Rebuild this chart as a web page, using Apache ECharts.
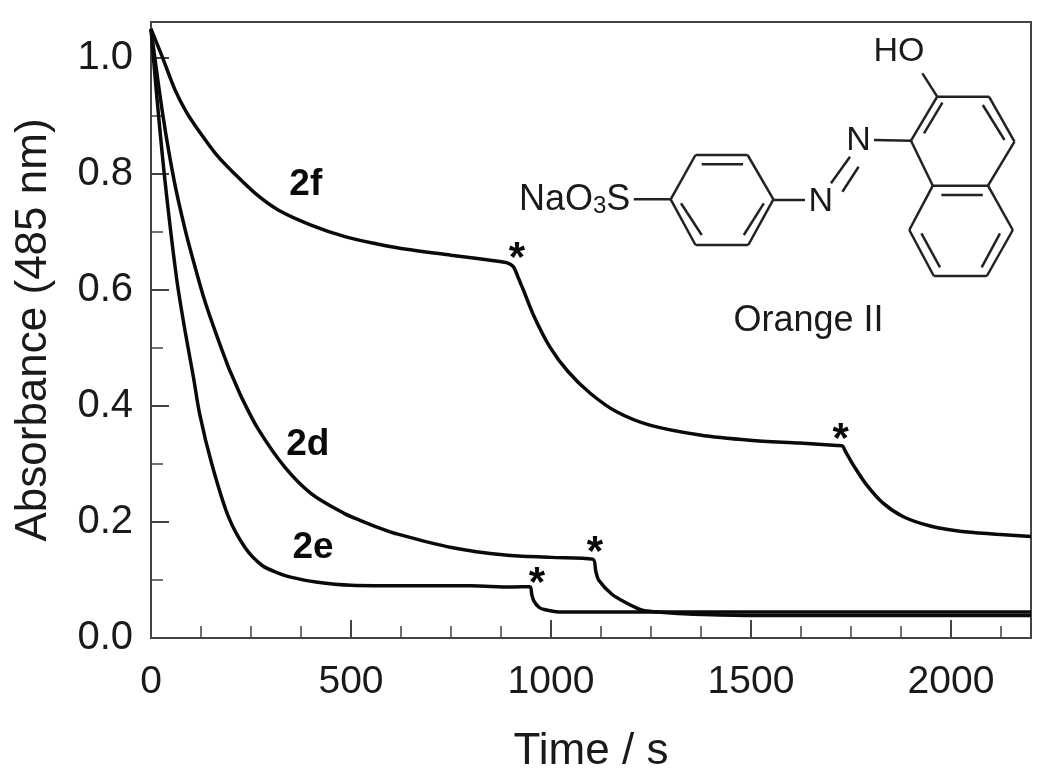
<!DOCTYPE html>
<html>
<head>
<meta charset="utf-8">
<script src="https://cdn.jsdelivr.net/npm/echarts@6/dist/echarts.min.js"></script>
<style>html,body{margin:0;background:#fff}</style>
</head>
<body>
<div id="chart" style="width:1050px;height:775px"></div>
<script>
const curve2f = [[0,1.05],[27,1.004],[60,0.945],[90,0.905],[122,0.872],[165,0.832],[205,0.803],[260,0.767],[318,0.738],[400,0.712],[485,0.692],[560,0.68],[622,0.672],[750,0.66],[872,0.649],[889,0.647],[905,0.641],[912,0.632],[920,0.618],[931,0.6],[956,0.557],[997,0.502],[1043,0.459],[1098,0.422],[1164,0.39],[1247,0.367],[1372,0.35],[1497,0.341],[1622,0.336],[1715,0.332],[1729,0.331],[1735,0.323],[1745,0.311],[1756,0.298],[1789,0.264],[1831,0.232],[1881,0.209],[1948,0.193],[2022,0.184],[2114,0.179],[2200,0.175]]
const curve2d = [[0,1.05],[30,0.9],[58,0.788],[85,0.705],[110,0.64],[135,0.58],[165,0.52],[193,0.468],[206,0.447],[227,0.414],[268,0.36],[335,0.294],[402,0.248],[485,0.214],[519,0.204],[570,0.19],[617,0.179],[751,0.156],[885,0.143],[1000,0.139],[1104,0.136],[1112,0.115],[1119,0.1],[1153,0.075],[1190,0.06],[1224,0.049],[1247,0.046],[1300,0.043],[1355,0.041],[1500,0.039],[1800,0.039],[2200,0.039]]
const curve2e = [[0,1.05],[15,0.93],[35,0.788],[64,0.62],[85,0.53],[106,0.45],[122,0.385],[152,0.3],[193,0.21],[235,0.156],[278,0.125],[318,0.112],[349,0.105],[412,0.0966],[500,0.091],[650,0.09],[800,0.09],[900,0.088],[947,0.0885],[952,0.075],[957,0.064],[970,0.053],[983,0.049],[1020,0.045],[1200,0.045],[1500,0.045],[1800,0.045],[2200,0.045]]

const sampleLabels = [["2f",387,0.781],["2d",392,0.333],["2e",405,0.155]]
const stars = [[915,0.652],[1724,0.341],[1110,0.145],[965,0.093]]

const xMajorTicks = [0,500,1000,1500,2000]
const xMinorTicks = [125,250,375,625,750,875,1125,1250,1375,1625,1750,1875,2125]
const yMajorTicks = [0,0.2,0.4,0.6,0.8,1.0]
const yMinorTicks = [0.1,0.3,0.5,0.7,0.9]

const axisColor = "#444"
const inkColor = "#1a1a1a"
const fontFamily = "Liberation Sans, Arial, sans-serif"

// the Orange II structure is a drawing, not data
const bonds = [
	[633.8,199.3,670.7,199.3],
	[670.7,199.3,695.5,155],[695.5,155,747.6,155],[747.6,155,773.4,199.3],
	[773.4,199.3,748.3,245],[748.3,245,695.5,245],[695.5,245,670.7,199.3],
	[701.7,164.3,743.1,164.3],[681,203.3,701.7,235],[763.8,203.3,743.8,235],
	[773.4,200,805,200],
	[831,183.3,850,156.7],[842.4,191.7,858.6,166.7],
	[874,140,911,140.7],
	[911,140.7,937.2,96.7],[937.2,96.7,989,96.7],[989,96.7,1014.5,141.7],
	[1014.5,141.7,988,185.7],[988,185.7,932.8,185.7],[932.8,185.7,911,140.7],
	[988,185.7,1012.8,230],[1012.8,230,986.9,276],[986.9,276,933.8,276],
	[933.8,276,909.3,230],[909.3,230,932.8,185.7],
	[924,133.3,942.4,102.7],[982.8,105,1004.5,140],[941.4,195,982.8,195],
	[921.4,233.3,940,267.3],[1000,233.3,981.7,267.3],
	[937.2,96.7,922.4,73.3],
]

const structureText = (x, y, text, size) => ({
	type: "text",
	x,
	y,
	style: {
		text,
		fill: inkColor,
		font: `${size}px ${fontFamily}`,
		textAlign: "center",
		textVerticalAlign: "middle",
	},
})

const curveSeries = (name, data) => ({
	name,
	type: "line",
	data,
	showSymbol: false,
	symbol: "none",
	smooth: 0.3,
	lineStyle: { color: "#0a0a0a", width: 3.5 },
	z: 5,
})

const chart = echarts.init(document.getElementById("chart"), null, { renderer: "canvas" })

chart.setOption({
	backgroundColor: "#fff",
	animation: false,
	textStyle: { fontFamily },
	grid: {
		left: 151,
		right: 19,
		top: 22,
		bottom: 137,
		outerBoundsMode: "none",
		show: true,
		borderColor: axisColor,
		borderWidth: 2,
	},
	xAxis: [
		{
			type: "value",
			min: 0,
			max: 2200,
			name: "Time / s",
			nameLocation: "middle",
			nameGap: 92,
			nameTextStyle: { fontSize: 44, color: inkColor },
			splitLine: { show: false },
			axisLine: { show: true, onZero: false, lineStyle: { color: axisColor, width: 2 } },
			axisTick: {
				inside: true,
				length: 18,
				customValues: xMajorTicks,
				lineStyle: { color: axisColor, width: 2 },
			},
			axisLabel: {
				customValues: xMajorTicks,
				formatter: (value) => String(value),
				fontSize: 39,
				color: inkColor,
				margin: 25,
			},
		},
		{
			type: "value",
			min: 0,
			max: 2200,
			position: "bottom",
			splitLine: { show: false },
			axisLine: { show: false },
			axisLabel: { show: false },
			axisTick: {
				inside: true,
				length: 12,
				customValues: xMinorTicks,
				lineStyle: { color: axisColor, width: 1.5 },
			},
		},
	],
	yAxis: [
		{
			type: "value",
			min: 0,
			max: 1.062,
			name: "Absorbance (485 nm)",
			nameLocation: "middle",
			nameGap: 95,
			nameTextStyle: { fontSize: 44, color: inkColor },
			splitLine: { show: false },
			axisLine: { show: true, onZero: false, lineStyle: { color: axisColor, width: 2 } },
			axisTick: {
				inside: true,
				length: 18,
				customValues: yMajorTicks,
				lineStyle: { color: axisColor, width: 2 },
			},
			axisLabel: {
				customValues: yMajorTicks,
				formatter: (value) => value.toFixed(1),
				fontSize: 40,
				color: inkColor,
				margin: 18,
				padding: [6, 0, 0, 0],
			},
		},
		{
			type: "value",
			min: 0,
			max: 1.062,
			position: "left",
			splitLine: { show: false },
			axisLine: { show: false },
			axisLabel: { show: false },
			axisTick: {
				inside: true,
				length: 12,
				customValues: yMinorTicks,
				lineStyle: { color: axisColor, width: 1.5 },
			},
		},
	],
	series: [
		curveSeries("2f", curve2f),
		curveSeries("2d", curve2d),
		curveSeries("2e", curve2e),
		{
			name: "labels",
			type: "scatter",
			symbolSize: 0,
			data: sampleLabels.map((item) => ({ value: [item[1], item[2]], name: item[0] })),
			silent: true,
			z: 6,
			itemStyle: { opacity: 1 },
			label: {
				show: true,
				position: "inside",
				formatter: (p) => p.name,
				fontSize: 37,
				fontWeight: "bold",
				color: "#0a0a0a",
				opacity: 1,
			},
		},
		{
			name: "stars",
			type: "scatter",
			symbolSize: 0,
			data: stars,
			silent: true,
			z: 6,
			itemStyle: { opacity: 1 },
			label: {
				show: true,
				position: "inside",
				formatter: "*",
				fontSize: 42,
				fontWeight: "bold",
				color: "#0a0a0a",
				opacity: 1,
			},
		},
	],
	graphic: [
		...bonds.map((b) => ({
			type: "line",
			shape: { x1: b[0], y1: b[1], x2: b[2], y2: b[3] },
			style: { stroke: "#222", lineWidth: 2.5 },
		})),
		structureText(899, 52, "HO", 34),
		structureText(858.6, 140.7, "N", 34),
		structureText(820.7, 201.7, "N", 34),
		structureText(808.5, 321, "Orange II", 36),
		{
			type: "text",
			x: 519,
			y: 200,
			style: {
				text: "{b|NaO}{s|3}{b|S}",
				fill: inkColor,
				textVerticalAlign: "middle",
				rich: {
					b: { fontSize: 36, fontFamily, fill: inkColor },
					s: { fontSize: 24, fontFamily, fill: inkColor, verticalAlign: "bottom", padding: [12, 0, 0, 0] },
				},
			},
		},
	],
})
</script>
</body>
</html>
